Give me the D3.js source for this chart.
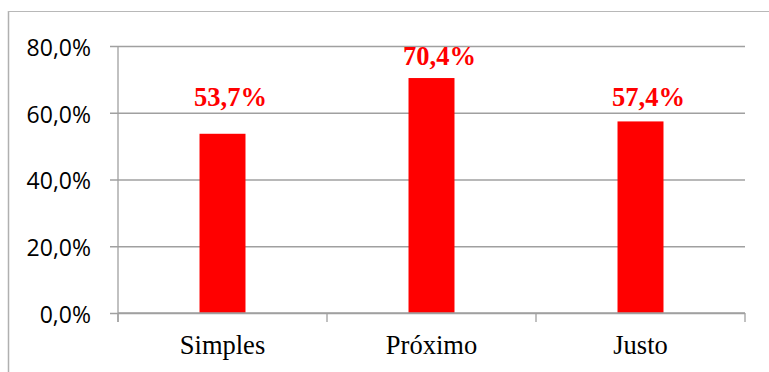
<!DOCTYPE html>
<html>
<head>
<meta charset="utf-8">
<script src="https://cdn.jsdelivr.net/npm/d3@7"></script>
<style>
  html, body { margin: 0; padding: 0; background: #fff; }
  svg { display: block; }
</style>
</head>
<body>
<svg id="chart" width="769" height="372"></svg>
<script>
const categories = ["Simples", "Próximo", "Justo"];
const values = [53.7, 70.4, 57.4];
const yTicks = [0, 20, 40, 60, 80];

const W = 769, H = 372;
const margin = { left: 118, right: 24, top: 46, bottom: 59 };
const svg = d3.select("#chart");
const gridColor = "#a0a0a0";

// outer chart border (left and top)
svg.append("line").attr("x1", 8.5).attr("x2", 8.5).attr("y1", 11).attr("y2", H)
  .attr("stroke", "#b0b0b0").attr("stroke-width", 1.5);
svg.append("line").attr("x1", 8).attr("x2", W).attr("y1", 11.5).attr("y2", 11.5)
  .attr("stroke", "#b8b8b8").attr("stroke-width", 1.2);

const x = d3.scaleBand().domain(categories)
  .range([margin.left, W - margin.right]).paddingInner(0.78).paddingOuter(0.39);
const xb = d3.scaleBand().domain(categories).range([margin.left, W - margin.right]);
const y = d3.scaleLinear().domain([0, 80]).range([H - margin.bottom, margin.top]);

const fmt = v => v.toFixed(1).replace(".", ",") + "%";

// gridlines + y ticks
const gy = svg.append("g").attr("transform", `translate(${margin.left},0)`)
  .call(d3.axisLeft(y).tickValues(yTicks).tickSize(8).tickFormat(fmt));
gy.select(".domain").remove();
gy.selectAll(".tick line").attr("stroke", gridColor).attr("stroke-width", 1.3)
  .attr("x1", -8).attr("x2", W - margin.right - margin.left);
gy.selectAll(".tick text")
  .attr("x", -27).attr("dy", "0.32em").attr("y", 2)
  .style("font-family", "'Open Sans', sans-serif").style("font-size", "23px")
  .attr("fill", "#000");

// y axis line
svg.append("line").attr("x1", margin.left).attr("x2", margin.left)
  .attr("y1", y(80)).attr("y2", y(0) + 9)
  .attr("stroke", gridColor).attr("stroke-width", 1.3);

// bars
svg.selectAll("rect.bar").data(values).join("rect")
  .attr("class", "bar")
  .attr("x", (d, i) => x(categories[i]))
  .attr("width", x.bandwidth())
  .attr("y", d => y(d))
  .attr("height", d => y(0) - y(d))
  .attr("fill", "#ff0000");

// x axis
const gx = svg.append("g").attr("transform", `translate(0,${y(0)})`);
gx.append("line").attr("x1", margin.left).attr("x2", W - margin.right)
  .attr("stroke", gridColor).attr("stroke-width", 1.3);
const bounds = categories.map(c => xb(c)).concat([W - margin.right]);
gx.selectAll("line.tk").data(bounds).join("line").attr("class", "tk")
  .attr("x1", d => d).attr("x2", d => d).attr("y1", 0).attr("y2", 9)
  .attr("stroke", gridColor).attr("stroke-width", 1.3);
gx.selectAll("text").data(categories).join("text")
  .attr("x", d => xb(d) + xb.bandwidth() / 2)
  .attr("y", 41)
  .attr("text-anchor", "middle")
  .style("font-family", "'Liberation Serif', 'Times New Roman', serif")
  .style("font-size", "26.5px")
  .attr("fill", "#000")
  .text(d => d);

// value labels
svg.selectAll("text.val").data(values).join("text")
  .attr("class", "val")
  .attr("x", (d, i) => xb(categories[i]) + xb.bandwidth() / 2 + 8)
  .attr("y", d => Math.min(y(d) - 13, y(60) - 7))
  .attr("text-anchor", "middle")
  .style("font-family", "'Liberation Serif', 'Times New Roman', serif")
  .style("font-weight", "bold")
  .style("font-size", "26.5px")
  .attr("fill", "#ff0000")
  .text(d => fmt(d));
</script>
</body>
</html>
